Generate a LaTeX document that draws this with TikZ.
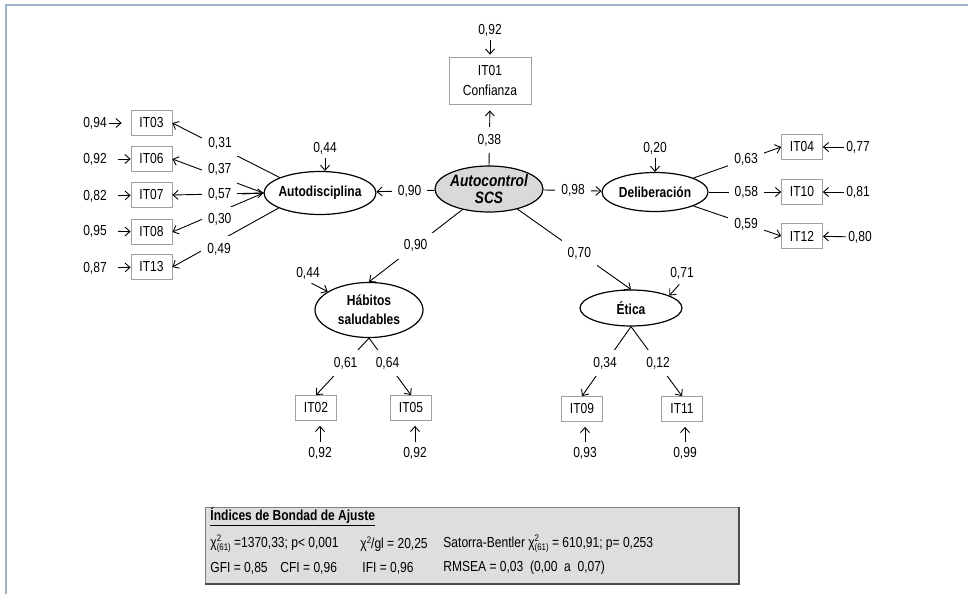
\documentclass[tikz,border=0pt]{standalone}
\usepackage{fontspec}
\setmainfont{Liberation Sans}[FakeStretch=0.83]
\usetikzlibrary{shapes.geometric,arrows.meta}
\definecolor{framecol}{HTML}{9FB4C7}
\definecolor{scsgray}{HTML}{D9D9D9}
\definecolor{fitgray}{HTML}{DEDEDF}
\definecolor{itemline}{HTML}{A0A0A0}
\newcommand\scr[1]{\mbox{\fontsize{9.5}{10}\selectfont #1}}
\newcommand\chiidx{χ\rlap{\raisebox{5.5pt}{\scr{2}}}\raisebox{-3.5pt}{\scr{(61)}}}
\newcommand\txtsize{\fontsize{14.5}{17}\selectfont}
\begin{document}
\begin{tikzpicture}[x=1pt,y=-1pt,
  every node/.style={font=\txtsize},
  >={Straight Barb[length=5pt,width=9pt]},
  every path/.style={line width=0.9pt},
  latent/.style={ellipse, draw, line width=1.2pt, inner sep=0pt},
  lname/.style={font=\txtsize\bfseries, align=center},
  item/.style={draw=itemline, line width=0.8pt, fill=white, minimum width=41pt,
    minimum height=25pt, inner sep=0pt},
  coef/.style={fill=white, inner xsep=6pt, inner ysep=7pt},
  err/.style={inner sep=2pt},
  fittext/.style={anchor=west, inner sep=0pt}
]
\useasboundingbox (0,0) rectangle (968,594);
\fill[white] (0,0) rectangle (968,594);
\draw[framecol, line width=2pt] (968,5) -- (6,5) -- (6,594);

% latent variables
\node[latent, fill=scsgray, minimum width=108pt, minimum height=46pt,
  label={[font=\fontsize{16.5}{17}\selectfont\bfseries\itshape, align=center]center:{Autocontrol\\SCS}}] (SCS) at (489,189) {};
\node[latent, minimum width=112pt, minimum height=43pt,
  label={[lname]center:Autodisciplina}] (AD) at (320,193) {};
\node[latent, minimum width=106pt, minimum height=39pt,
  label={[lname]center:Deliberación}] (DL) at (655,192) {};
\node[latent, minimum width=108pt, minimum height=55pt,
  label={[lname, font=\fontsize{14.5}{19}\selectfont\bfseries]center:{Hábitos\\saludables}}] (HS) at (369,310) {};
\node[latent, minimum width=102pt, minimum height=36pt,
  label={[lname]center:Ética}] (ET) at (631,308) {};

% observed items
\node[item, minimum width=82pt, minimum height=47pt, align=center,
  font=\fontsize{14.5}{20}\selectfont] (IT01) at (490,80.5) {IT01\\Confianza};
\node[item] (IT03) at (151.5,123) {IT03};
\node[item] (IT06) at (151.5,159) {IT06};
\node[item] (IT07) at (151.5,195) {IT07};
\node[item] (IT08) at (151.5,232) {IT08};
\node[item] (IT13) at (151.5,267) {IT13};
\node[item] (IT04) at (802,147) {IT04};
\node[item] (IT10) at (802,192) {IT10};
\node[item] (IT12) at (802,236) {IT12};
\node[item] (IT02) at (316,408) {IT02};
\node[item] (IT05) at (411,408) {IT05};
\node[item] (IT09) at (582,409) {IT09};
\node[item] (IT11) at (682,409) {IT11};

% error terms of the items
\node[err] (e01) at (490,30) {0,92};
\node[err] (e03) at (95,123) {0,94};
\node[err] (e06) at (95,159) {0,92};
\node[err] (e07) at (95,196) {0,82};
\node[err] (e08) at (95,231) {0,95};
\node[err] (e13) at (95,268) {0,87};
\node[err] (e04) at (858,147) {0,77};
\node[err] (e10) at (858,192) {0,81};
\node[err] (e12) at (860,237) {0,80};
\node[err] (e02) at (320,453) {0,92};
\node[err] (e05) at (415,453) {0,92};
\node[err] (e09) at (585,453) {0,93};
\node[err] (e11) at (685,453) {0,99};

\draw[->, shorten <=2pt, shorten >=2pt] (e01) -- (IT01);
\draw[->, shorten >=9pt] (e03) -- (IT03);
\draw[->, shorten <=9pt] (e06) -- (IT06);
\draw[->, shorten <=9pt] (e07) -- (IT07);
\draw[->, shorten <=9pt] (e08) -- (IT08);
\draw[->, shorten <=9pt] (e13) -- (IT13);
\draw[->] (e04) -- (IT04);
\draw[->] (e10) -- (IT10);
\draw[->] (e12) -- (IT12);
\draw[->, shorten <=3pt, shorten >=5pt] (e02) -- (e02 |- IT02.south);
\draw[->, shorten <=3pt, shorten >=5pt] (e05) -- (e05 |- IT05.south);
\draw[->, shorten <=3pt, shorten >=5pt] (e09) -- (e09 |- IT09.south);
\draw[->, shorten <=3pt, shorten >=5pt] (e11) -- (e11 |- IT11.south);

% disturbances of the first-order factors
\node[err] (dAD) at (325,148) {0,44};
\node[err] (dDL) at (655,148) {0,20};
\node[err] (dHS) at (308,273) {0,44};
\node[err] (dET) at (682,273) {0,71};
\draw[->, shorten <=2pt] (dAD) -- (dAD |- AD.north);
\draw[->, shorten <=2pt] (dDL) -- (DL.north);
\draw[->, shorten <=4pt] (dHS.south) -- (HS.156);
\draw[->, shorten <=4pt] (dET.south) -- (ET.18);

% second-order loadings
\draw[->, shorten >=6pt] (SCS.north) -- node[coef, pos=0.41] {0,38} (IT01.south);
\draw[->] (SCS) -- node[coef, pos=0.43] {0,90} (AD);
\draw[->] (SCS) -- node[coef, pos=0.51] {0,98} (DL);
\draw[->] (SCS) -- node[coef, pos=0.5] {0,90} (HS.north);
\draw[->] (SCS) -- node[coef, pos=0.545] {0,70} (ET.north);

% first-order loadings
\draw[->] (AD.159) -- node[coef, pos=0.556, yshift=4pt] {0,31} (IT03.east);
\draw[->] (AD.west) -- node[coef, pos=0.48, yshift=7pt] {0,37} (IT06.east);
\draw[->] (AD.west) -- node[coef, pos=0.48] {0,57} (IT07.east);
\draw[->] (AD.west) -- node[coef, pos=0.48, yshift=-8pt] {0,30} (IT08.east);
\draw[->] (AD.200) -- node[coef, pos=0.56, yshift=-8pt] {0,49} (IT13.east);
\coordinate (ADin) at (242,194);
\draw[->] (ADin) -- (AD.west);

\draw[->] (DL.20) -- node[coef, pos=0.6] {0,63} (IT04.west);
\draw[->] (DL.east) -- node[coef, pos=0.52] {0,58} (IT10.west);
\draw[->] (DL.-20) -- node[coef, pos=0.6] {0,59} (IT12.west);

\draw[->] (HS.south) -- node[coef, pos=0.44] {0,61} (IT02.north);
\draw[->] (HS.south) -- node[coef, pos=0.44] {0,64} (IT05.north);
\draw[->] (ET.south) -- node[coef, pos=0.53] {0,34} (IT09.north);
\draw[->] (ET.south) -- node[coef, pos=0.53] {0,12} (IT11.north);

% goodness-of-fit table
\node[draw=gray, line width=0.8pt, fill=fitgray, anchor=north west, inner sep=0pt,
  minimum width=533pt, minimum height=76pt] (fit) at (205,507) {};
\draw[black!70, line width=1.6pt] (fit.north east) -- (fit.south east) -- (fit.south west);
\node[fittext, font=\txtsize\bfseries] (hdr) at (210,517) {\underline{Índices de Bondad de Ajuste}};
\node[fittext] (r2a) at (210,544) {\chiidx\ =1370,33; p< 0,001};
\node[fittext] (r2b) at (360,544) {χ\raisebox{5.5pt}{\scr{2}}/gl = 20,25};
\node[fittext] (r2c) at (443,544) {Satorra-Bentler \chiidx\ = 610,91; p= 0,253};
\node[fittext] (r3a) at (210,568) {GFI = 0,85};
\node[fittext] (r3b) at (280,568) {CFI = 0,96};
\node[fittext] (r3c) at (362,568) {IFI = 0,96};
\node[fittext] (r3d) at (443,568) {RMSEA = 0,03\ \ (0,00\ \ a\ \ 0,07)};
\end{tikzpicture}
\end{document}
